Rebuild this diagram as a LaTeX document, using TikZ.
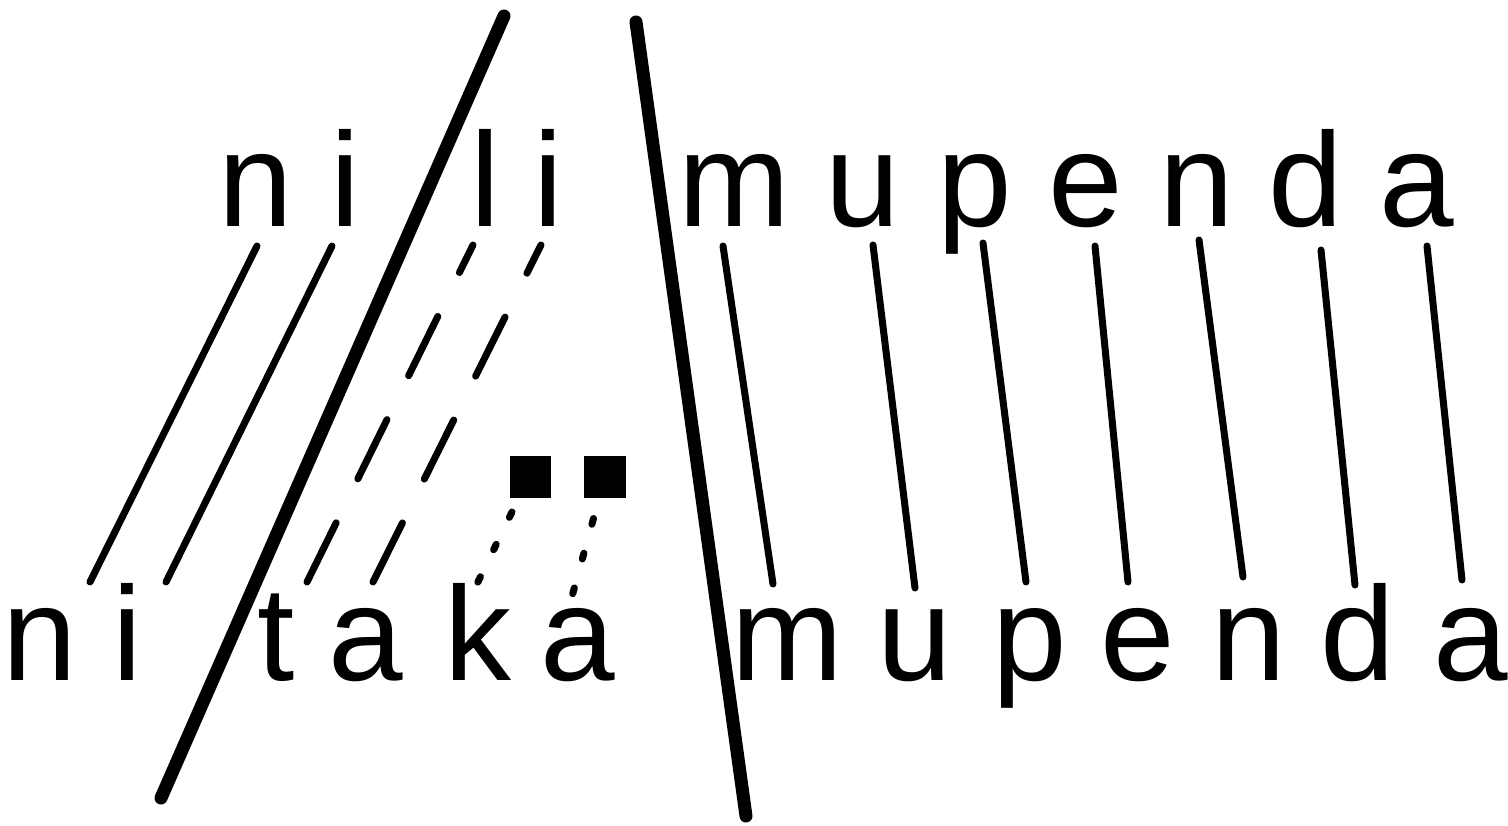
\documentclass[tikz,border=0pt]{standalone}
\usepackage{fontspec}
\setmainfont{Liberation Sans}
\begin{document}
\begin{tikzpicture}[x=1pt,y=-1pt,
  lt/.style={anchor=base,inner sep=0pt,font=\fontsize{134}{134}\selectfont},
  thin/.style={line width=7pt,line cap=round},
  thick/.style={line width=13pt,line cap=round},
  dashlink/.style={thin,dash pattern=on 66pt off 49pt},
  dotlink/.style={thin,dash pattern=on 6pt off 30pt},
  sq/.style={fill=black,inner sep=0pt,minimum size=41.5pt}]
\path[use as bounding box] (0,0) rectangle (1508,826);
% top row
\node[lt] (t1) at (256,227) {n};
\node[lt] (t2) at (345,227) {i};
\node[lt] (t3) at (485,227) {l};
\node[lt] (t4) at (548,227) {i};
\node[lt] (t5) at (734,227) {m};
\node[lt] (t6) at (863,227) {u};
\node[lt] (t7) at (975,227) {p};
\node[lt] (t8) at (1086,227) {e};
\node[lt] (t9) at (1197,227) {n};
\node[lt] (t10) at (1306,227) {d};
\node[lt] (t11) at (1417,227) {a};
% bottom row
\node[lt] (b1) at (40,680) {n};
\node[lt] (b2) at (127,680) {i};
\node[lt] (b3) at (276,680) {t};
\node[lt] (b4) at (366,680) {a};
\node[lt] (b5) at (478,680) {k};
\node[lt] (b6) at (578,680) {a};
\node[lt] (b7) at (787,680) {m};
\node[lt] (b8) at (915,680) {u};
\node[lt] (b9) at (1030,680) {p};
\node[lt] (b10) at (1138,680) {e};
\node[lt] (b11) at (1249,680) {n};
\node[lt] (b12) at (1358,680) {d};
\node[lt] (b13) at (1471,680) {a};
% floating tones
\node[sq] (s1) at (530.5,477) {};
\node[sq] (s2) at (605,477) {};
% endpoints
\coordinate (a1t) at (257,246); \coordinate (a1b) at (90,582);
\coordinate (a2t) at (332,246); \coordinate (a2b) at (166,582);
\coordinate (a3t) at (473,245); \coordinate (a3b) at (307,582);
\coordinate (a4t) at (541,245); \coordinate (a4b) at (373,582);
\coordinate (d1t) at (512,512); \coordinate (d1b) at (474,590);
\coordinate (d2t) at (593.5,518.5); \coordinate (d2b) at (571,600);
\coordinate (r1t) at (723,246); \coordinate (r1b) at (773,584);
\coordinate (r2t) at (873,245); \coordinate (r2b) at (915,588);
\coordinate (r3t) at (983,243); \coordinate (r3b) at (1026,582);
\coordinate (r4t) at (1095,246); \coordinate (r4b) at (1128,582);
\coordinate (r5t) at (1199,240); \coordinate (r5b) at (1243,577);
\coordinate (r6t) at (1321,250); \coordinate (r6b) at (1355,585);
\coordinate (r7t) at (1427,246); \coordinate (r7b) at (1462,580);
\coordinate (xAt) at (504,16); \coordinate (xAb) at (161,798);
\coordinate (xBt) at (636,22); \coordinate (xBb) at (746,816);
% associations
\draw[thin] (a1t) -- (a1b);
\draw[thin] (a2t) -- (a2b);
\draw[dashlink] (a3b) -- (a3t);
\draw[dashlink] (a4b) -- (a4t);
\draw[dotlink] (d1t) -- (d1b);
\draw[dotlink] (d2t) -- (d2b);
\draw[thin] (r1t) -- (r1b);
\draw[thin] (r2t) -- (r2b);
\draw[thin] (r3t) -- (r3b);
\draw[thin] (r4t) -- (r4b);
\draw[thin] (r5t) -- (r5b);
\draw[thin] (r6t) -- (r6b);
\draw[thin] (r7t) -- (r7b);
% boundaries
\draw[thick] (xAt) -- (xAb);
\draw[thick] (xBt) -- (xBb);
\end{tikzpicture}
\end{document}
